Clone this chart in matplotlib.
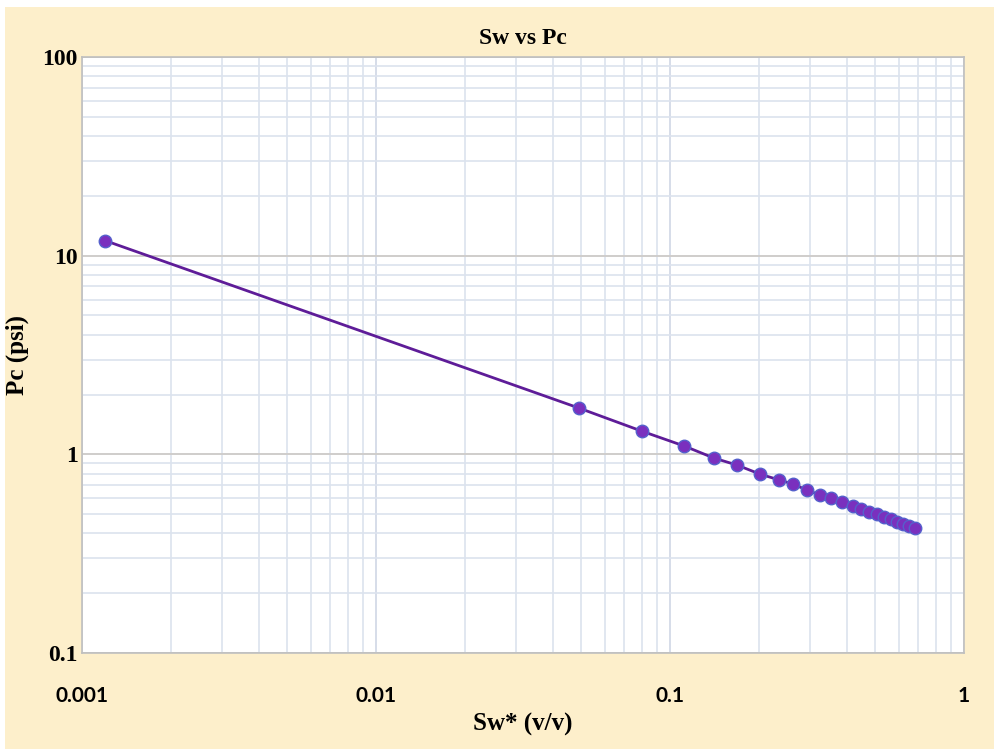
import matplotlib.pyplot as plt
from matplotlib.patches import Rectangle
from matplotlib.ticker import LogLocator, NullFormatter, FixedLocator

# data
sw = [0.0012, 0.049, 0.080, 0.112, 0.141, 0.169, 0.202, 0.235, 0.262, 0.292,
      0.324, 0.353, 0.385, 0.419, 0.447, 0.475, 0.506, 0.535, 0.565, 0.592,
      0.621, 0.650, 0.681]
pc = [11.9, 1.71, 1.31, 1.10, 0.958, 0.883, 0.796, 0.743, 0.709, 0.661,
      0.624, 0.603, 0.575, 0.550, 0.531, 0.513, 0.501, 0.484, 0.473, 0.456,
      0.446, 0.436, 0.426]
x_ticks = [0.001, 0.01, 0.1, 1]
x_labels = ['0.001', '0.01', '0.1', '1']
y_ticks = [0.1, 1, 10, 100]
y_labels = ['0.1', '1', '10', '100']

W, H = 994, 749
fig = plt.figure(figsize=(W / 100, H / 100), dpi=100)
fig.patch.set_facecolor('white')
fig.patches.append(Rectangle((5 / W, 0), 1, 1 - 7 / H, transform=fig.transFigure,
                             facecolor='#FDEFCB', edgecolor='none', zorder=-10))

ax = fig.add_axes([82 / W, 1 - 653 / H, (964 - 82) / W, (653 - 57) / H])
ax.set_facecolor('white')
ax.set_xscale('log')
ax.set_yscale('log')
ax.set_xlim(0.001, 1)
ax.set_ylim(0.1, 100)

# grid
ax.xaxis.set_minor_locator(LogLocator(base=10, subs=range(2, 10)))
ax.yaxis.set_minor_locator(LogLocator(base=10, subs=range(2, 10)))
ax.xaxis.set_minor_formatter(NullFormatter())
ax.yaxis.set_minor_formatter(NullFormatter())
ax.grid(which='minor', axis='both', color='#DCE3EE', linewidth=1.2)
ax.grid(which='major', axis='x', color='#D6DDE9', linewidth=1.4)
ax.grid(which='major', axis='y', color='#CFCDCB', linewidth=1.4)
ax.set_axisbelow(True)

ax.plot(sw, pc, color='#5E1C98', linewidth=2.0, marker='o', markersize=9,
        markerfacecolor='#7A30BE', markeredgecolor='#5560CC', markeredgewidth=1.0,
        zorder=3)

for s in ax.spines.values():
    s.set_color('#BFBFBF')
    s.set_linewidth(1.2)

ax.xaxis.set_major_locator(FixedLocator(x_ticks))
ax.yaxis.set_major_locator(FixedLocator(y_ticks))
ax.set_xticklabels(x_labels, fontfamily='Lato', fontweight='bold', fontsize=15)
ax.set_yticklabels(y_labels, fontfamily='Liberation Serif', fontweight='bold', fontsize=17)
ax.tick_params(which='both', length=0)
ax.tick_params(axis='x', pad=24)
ax.tick_params(axis='y', pad=3)

ax.set_title('Sw vs Pc', fontfamily='Liberation Serif', fontweight='bold', fontsize=17, pad=9)
ax.set_xlabel('Sw* (v/v)', fontfamily='Liberation Serif', fontweight='bold', fontsize=18, labelpad=5)
ax.set_ylabel('Pc (psi)', fontfamily='Liberation Serif', fontweight='bold', fontsize=18, labelpad=10)

fig.savefig('out.png', dpi=100)
